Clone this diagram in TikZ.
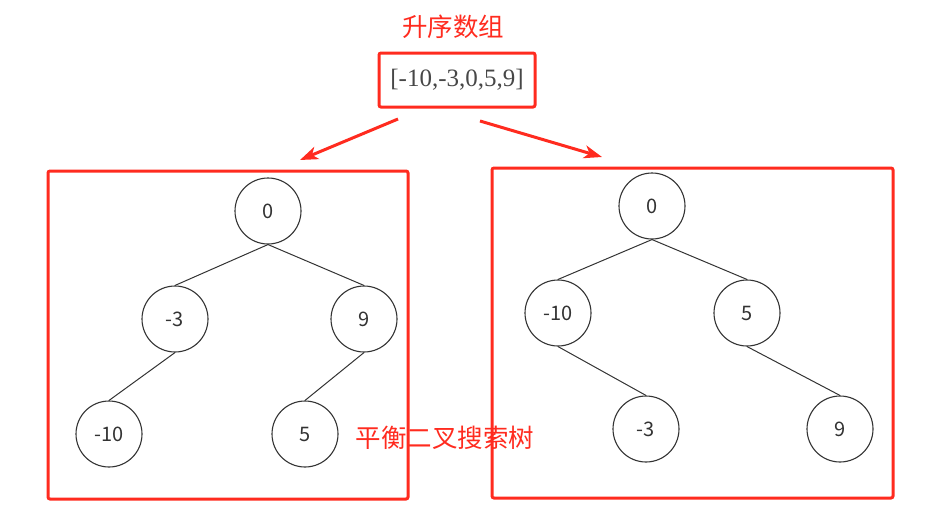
\documentclass[tikz,border=0pt]{standalone}
\usepackage{fontspec}
\usepackage{xcolor}
\usetikzlibrary{arrows.meta}
\setmainfont{Liberation Serif}
\newfontfamily\cjk{Noto Sans CJK SC}
\definecolor{boxred}{HTML}{FF2B1F}
\definecolor{linegray}{HTML}{333333}

\begin{document}
\begin{tikzpicture}[x = 1pt, y = -1pt,
        treenode/.style = {draw = linegray, circle, line width = 1.1pt, minimum size = 66pt, inner sep = 0pt, font = \cjk\fontsize{20}{22}\selectfont, text = linegray},
        redbox/.style = {draw = boxred, rectangle, line width = 3pt, rounded corners = 2pt, inner sep = 0pt},
        edge/.style = {draw = linegray, line width = 1pt},
        redlabel/.style = {text = boxred, font = \cjk\fontsize{25.5}{27}\selectfont}]
        \useasboundingbox (0, 0) rectangle (947, 530);
        % Title and array
        \node [redlabel] (title) at (453, 27) {升序数组};
        \node [redbox, minimum width = 156pt, minimum height = 54pt, text = linegray!90, font = \fontsize{25}{27}\selectfont] (arr) at (457, 80) {[-10,-3,0,5,9]};
        % Frames of the two trees
        \node [redbox, minimum width = 360pt, minimum height = 328pt] (lbox) at (228, 335) {};
        \node [redbox, minimum width = 401pt, minimum height = 330pt] (rbox) at (692.5, 333) {};
        \node [redlabel] (bst) at (445, 438) {平衡二叉搜索树};
        % Left tree
        \node [treenode] (l0) at (268, 211) {0};
        \node [treenode] (lm3) at (175, 319) {-3};
        \node [treenode] (l9) at (364, 319) {9};
        \node [treenode] (lm10) at (109, 434) {-10};
        \node [treenode] (l5) at (305, 434) {5};
        \draw [edge] (l0.south) -- (lm3.north);
        \draw [edge] (l0.south) -- (l9.north);
        \draw [edge] (lm3.south) -- (lm10.north);
        \draw [edge] (l9.south) -- (l5.north);
        % Right tree
        \node [treenode] (r0) at (652, 206) {0};
        \node [treenode] (rm10) at (558, 313) {-10};
        \node [treenode] (r5) at (747, 313) {5};
        \node [treenode] (rm3) at (646, 429) {-3};
        \node [treenode] (r9) at (840, 429) {9};
        \draw [edge] (r0.south) -- (rm10.north);
        \draw [edge] (r0.south) -- (r5.north);
        \draw [edge] (rm10.south) -- (rm3.north);
        \draw [edge] (r5.south) -- (r9.north);
        % Arrows
        \coordinate (al) at (398, 119);
        \coordinate (altip) at (300, 160);
        \coordinate (ar) at (480, 121);
        \coordinate (artip) at (602, 157);
        \draw [-{Stealth[length = 18pt, width = 13pt, inset = 5pt]}, draw = boxred, fill = boxred, line width = 3pt] (al) -- (altip);
        \draw [-{Stealth[length = 18pt, width = 13pt, inset = 5pt]}, draw = boxred, fill = boxred, line width = 3pt] (ar) -- (artip);
\end{tikzpicture}
\end{document}
